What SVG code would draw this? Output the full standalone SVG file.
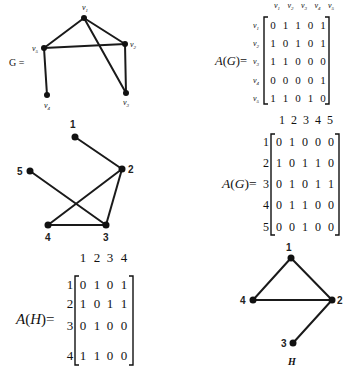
<svg xmlns="http://www.w3.org/2000/svg" width="344" height="369" viewBox="0 0 344 369">
<style>
.e{stroke:#1a1a1a;stroke-width:2;fill:none;stroke-linecap:round}
.n{fill:#111}
.br{stroke:#111;stroke-width:1.4;fill:none}
.t{font-family:"Liberation Serif",serif;fill:#111}
.m1{font-size:11px;text-anchor:middle}
.m2{font-size:12px;text-anchor:middle}
.m3{font-size:13px;text-anchor:middle}
.lb{font-family:"Liberation Sans",sans-serif;font-weight:bold;font-size:10px;fill:#222}
.sm{font-size:8px}
.it{font-style:italic}
</style>
<rect width="344" height="369" fill="#fff"/>

<g id="connectors">
  <line class="e" x1="84" y1="18" x2="44" y2="48"/>
  <line class="e" x1="84" y1="18" x2="125" y2="44"/>
  <line class="e" x1="84" y1="18" x2="126" y2="93"/>
  <line class="e" x1="44" y1="48" x2="125" y2="44"/>
  <line class="e" x1="44" y1="48" x2="47" y2="95"/>
  <line class="e" x1="125" y1="44" x2="126" y2="93"/>
  <line class="e" x1="75" y1="137" x2="122" y2="169"/>
  <line class="e" x1="30" y1="171" x2="106" y2="225"/>
  <line class="e" x1="48" y1="225" x2="122" y2="169"/>
  <line class="e" x1="122" y1="169" x2="106" y2="225"/>
  <line class="e" x1="48" y1="225" x2="106" y2="225"/>
  <line class="e" x1="291" y1="258" x2="253" y2="300"/>
  <line class="e" x1="291" y1="258" x2="332" y2="300"/>
  <line class="e" x1="253" y1="300" x2="332" y2="300"/>
  <line class="e" x1="332" y1="300" x2="293" y2="343"/>
</g>

<text class="t" x="9" y="66" font-size="10">G =</text>
<g id="G-v1"><circle class="n" cx="84" cy="18" r="3"/><text class="t it sm" x="82" y="10">v<tspan font-size="5" dy="1.5">1</tspan></text></g>
<g id="G-v5"><circle class="n" cx="44" cy="48" r="3"/><text class="t it sm" x="32" y="51">v<tspan font-size="5" dy="1.5">5</tspan></text></g>
<g id="G-v2"><circle class="n" cx="125" cy="44" r="3"/><text class="t it sm" x="130" y="47">v<tspan font-size="5" dy="1.5">2</tspan></text></g>
<g id="G-v4"><circle class="n" cx="47" cy="95" r="3"/><text class="t it sm" x="44" y="108">v<tspan font-size="5" dy="1.5">4</tspan></text></g>
<g id="G-v3"><circle class="n" cx="126" cy="93" r="3"/><text class="t it sm" x="123" y="105">v<tspan font-size="5" dy="1.5">3</tspan></text></g>

<g id="matrix-G1">
  <text class="t it sm" x="274" y="8">v<tspan font-size="5" dy="1.5">1</tspan></text>
  <text class="t it sm" x="287.5" y="8">v<tspan font-size="5" dy="1.5">2</tspan></text>
  <text class="t it sm" x="301" y="8">v<tspan font-size="5" dy="1.5">3</tspan></text>
  <text class="t it sm" x="314.5" y="8">v<tspan font-size="5" dy="1.5">4</tspan></text>
  <text class="t it sm" x="328" y="8">v<tspan font-size="5" dy="1.5">5</tspan></text>
  <text class="t it sm" x="253" y="28">v<tspan font-size="5" dy="1.5">1</tspan></text>
  <text class="t it sm" x="253" y="46">v<tspan font-size="5" dy="1.5">2</tspan></text>
  <text class="t it sm" x="253" y="64">v<tspan font-size="5" dy="1.5">3</tspan></text>
  <text class="t it sm" x="253" y="83">v<tspan font-size="5" dy="1.5">4</tspan></text>
  <text class="t it sm" x="253" y="101">v<tspan font-size="5" dy="1.5">5</tspan></text>
  <text class="t" x="215" y="65" font-size="12.5"><tspan class="it">A</tspan>(<tspan class="it">G</tspan>)=</text>
  <path class="br" d="M268 17 H264 V104 H268"/>
  <path class="br" d="M325 17 H329 V104 H325"/>
  <text class="t m1" x="273 285.5 298 310.5 323" y="29">01101</text>
  <text class="t m1" x="273 285.5 298 310.5 323" y="47">10101</text>
  <text class="t m1" x="273 285.5 298 310.5 323" y="65">11000</text>
  <text class="t m1" x="273 285.5 298 310.5 323" y="84">00001</text>
  <text class="t m1" x="273 285.5 298 310.5 323" y="102">11010</text>
</g>

<g id="n1"><circle class="n" cx="75" cy="137" r="3.5"/><text class="lb" x="70" y="128">1</text></g>
<g id="n5"><circle class="n" cx="30" cy="171" r="3.5"/><text class="lb" x="17" y="175">5</text></g>
<g id="n2"><circle class="n" cx="122" cy="169" r="3.5"/><text class="lb" x="128" y="173">2</text></g>
<g id="n4"><circle class="n" cx="48" cy="225" r="3.5"/><text class="lb" x="45" y="241">4</text></g>
<g id="n3"><circle class="n" cx="106" cy="225" r="3.5"/><text class="lb" x="103" y="241">3</text></g>

<g id="matrix-G2">
  <text class="t m2" x="282 294 306 318 330" y="124">12345</text>
  <text class="t m2" x="266" y="146">1</text>
  <text class="t m2" x="266" y="167">2</text>
  <text class="t m2" x="266" y="188">3</text>
  <text class="t m2" x="266" y="209">4</text>
  <text class="t m2" x="266" y="231">5</text>
  <text class="t" x="222" y="188" font-size="13.5"><tspan class="it">A</tspan>(<tspan class="it">G</tspan>)=</text>
  <path class="br" d="M275 134 H271 V235 H275"/>
  <path class="br" d="M335 134 H339 V235 H335"/>
  <text class="t m2" x="279 292 305 318 331" y="146">01000</text>
  <text class="t m2" x="279 292 305 318 331" y="167">10110</text>
  <text class="t m2" x="279 292 305 318 331" y="188">01011</text>
  <text class="t m2" x="279 292 305 318 331" y="209">01100</text>
  <text class="t m2" x="279 292 305 318 331" y="231">00100</text>
</g>

<g id="matrix-H">
  <text class="t m3" x="83 97 110 124" y="262">1234</text>
  <text class="t m3" x="70" y="289">1</text>
  <text class="t m3" x="70" y="308">2</text>
  <text class="t m3" x="70" y="330">3</text>
  <text class="t m3" x="70" y="360">4</text>
  <text class="t" x="16" y="324" font-size="15"><tspan class="it">A</tspan>(<tspan class="it">H</tspan>)=</text>
  <path class="br" d="M79 276 H75 V365 H79"/>
  <path class="br" d="M129 276 H133 V365 H129"/>
  <text class="t m3" x="83 97 110 124" y="289">0101</text>
  <text class="t m3" x="83 97 110 124" y="308">1011</text>
  <text class="t m3" x="83 97 110 124" y="330">0100</text>
  <text class="t m3" x="83 97 110 124" y="360">1100</text>
</g>

<g id="h1"><circle class="n" cx="291" cy="258" r="3.5"/><text class="lb" x="286" y="251">1</text></g>
<g id="h4"><circle class="n" cx="253" cy="300" r="3.5"/><text class="lb" x="240" y="304">4</text></g>
<g id="h2"><circle class="n" cx="332" cy="300" r="3.5"/><text class="lb" x="337" y="304">2</text></g>
<g id="h3"><circle class="n" cx="293" cy="343" r="3.5"/><text class="lb" x="281" y="347">3</text></g>
<text class="t it" x="288" y="365" font-size="10" font-weight="bold">H</text>
</svg>
